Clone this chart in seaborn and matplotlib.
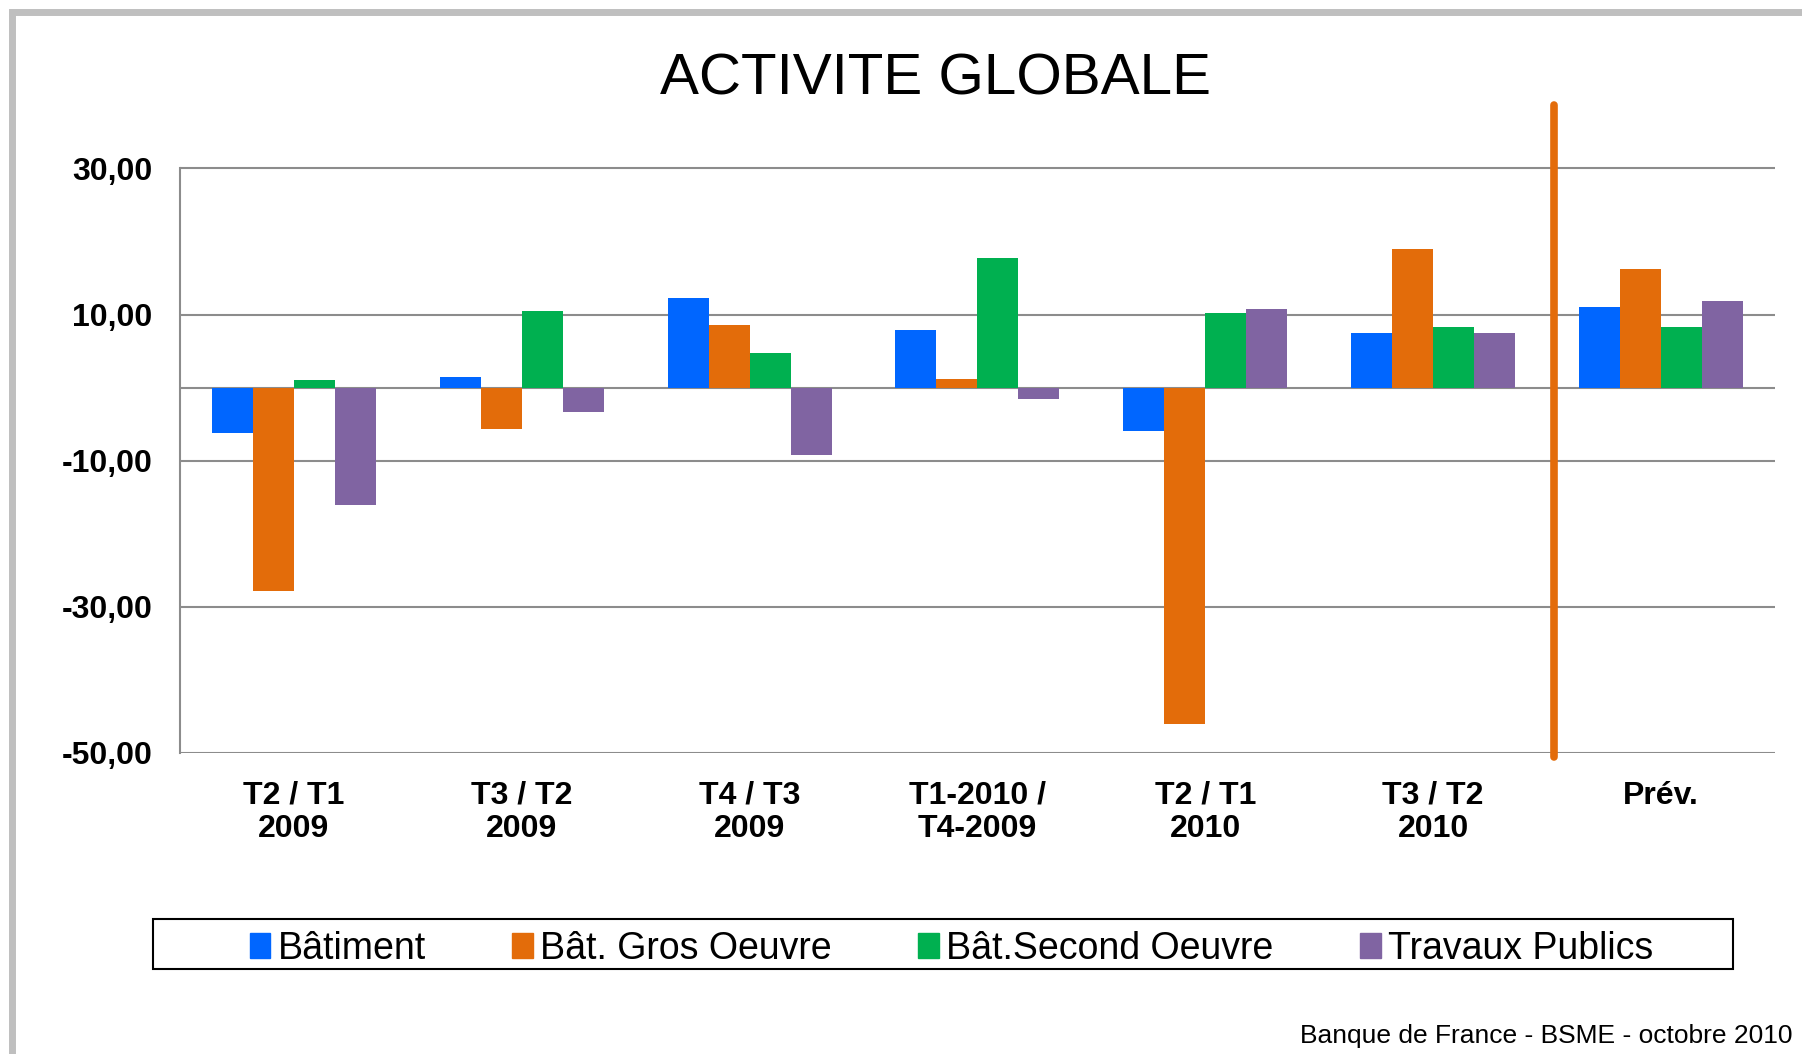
import pandas as pd
import matplotlib.pyplot as plt
import matplotlib.patches as mpatches
import seaborn as sns

# Data
periods = ['T2 / T1\n2009', 'T3 / T2\n2009', 'T4 / T3\n2009', 'T1-2010 /\nT4-2009',
           'T2 / T1\n2010', 'T3 / T2\n2010', 'Prév.']
batiment = [-6.2, 1.4, 12.3, 7.9, -6.0, 7.5, 11.0]
gros_oeuvre = [-27.9, -5.6, 8.6, 1.2, -46.0, 18.9, 16.2]
second_oeuvre = [1.0, 10.5, 4.7, 17.8, 10.2, 8.3, 8.3]
travaux_publics = [-16.1, -3.4, -9.2, -1.6, 10.8, 7.5, 11.9]

series_names = ['Bâtiment', 'Bât. Gros Oeuvre', 'Bât.Second Oeuvre', 'Travaux Publics']
colors = ['#0066FF', '#E36C0A', '#00B050', '#8064A2']

y_ticks = [-50, -30, -10, 10, 30]
y_labels = ['-50,00', '-30,00', '-10,00', '10,00', '30,00']

# forecast separator (between last quarter and "Prév.")
split_pos = 5.53
split_bottom, split_top = -50.5, 38.7

rows = []
for name, vals in zip(series_names, [batiment, gros_oeuvre, second_oeuvre, travaux_publics]):
    for p, v in zip(periods, vals):
        rows.append({'Période': p, 'Série': name, 'Valeur': v})
df = pd.DataFrame(rows)

sns.set_style("white")
plt.rcParams['font.family'] = ['Liberation Sans', 'DejaVu Sans']
plt.rcParams['text.color'] = 'black'
plt.rcParams['xtick.color'] = 'black'
plt.rcParams['ytick.color'] = 'black'

fig = plt.figure(figsize=(18.02, 10.54), dpi=100)
ax = fig.add_axes([0.0999, 0.2856, 0.885, 0.624])

sns.barplot(data=df, x='Période', y='Valeur', hue='Série', order=periods,
            hue_order=series_names, palette=colors, width=0.72, linewidth=0,
            saturation=1, legend=False, ax=ax)

ax.set_ylim(-50, 40)
ax.set_xlim(-0.5, len(periods) - 0.5)
ax.set_yticks(y_ticks)
ax.set_yticklabels(y_labels, fontsize=23, fontweight='bold')
ax.set_xticks(range(len(periods)))
ax.set_xticklabels(periods, fontsize=23, fontweight='bold', linespacing=1.15)
ax.tick_params(axis='y', length=8, width=1.5, color='#8C8C8C', pad=12)
ax.tick_params(axis='x', length=0, pad=20)
ax.set_xlabel('')
ax.set_ylabel('')

for y in y_ticks + [0]:
    ax.axhline(y, color='#8C8C8C', linewidth=1.5, zorder=0.5)
for s in ['top', 'right', 'bottom']:
    ax.spines[s].set_visible(False)
ax.spines['left'].set_color('#8C8C8C')
ax.spines['left'].set_linewidth(1.5)
ax.spines['left'].set_bounds(-50, 30)

ax.plot([split_pos, split_pos], [split_bottom, split_top], color='#E36C0A',
        linewidth=5.5, clip_on=False, zorder=5)

# legend box drawn separately, entries centred inside
fig.patches.append(mpatches.Rectangle((153 / 1802, 1 - 969 / 1054), 1580 / 1802, 50 / 1054,
                                      transform=fig.transFigure, fill=False,
                                      edgecolor='black', linewidth=1.5))
handles = [mpatches.Patch(color=c, label=n) for c, n in zip(colors, series_names)]
fig.legend(handles=handles, loc='center', ncol=4, bbox_to_anchor=(0.528, 0.100),
           fontsize=27, frameon=False, handlelength=0.55, handleheight=0.65,
           handletextpad=0.2, columnspacing=2.3, borderpad=0)

fig.text(0.519, 0.910, 'ACTIVITE GLOBALE', fontsize=42, ha='center', va='baseline')
fig.text(0.995, 0.01, 'Banque de France - BSME - octobre 2010', fontsize=19,
         ha='right', va='baseline')

# grey frame around the slide
fig.patches.append(mpatches.Rectangle((0.0064, -0.1), 1.2, 1.089, transform=fig.transFigure,
                                      fill=False, edgecolor='#BFBFBF', linewidth=5))

fig.savefig('out.png', dpi=100)
